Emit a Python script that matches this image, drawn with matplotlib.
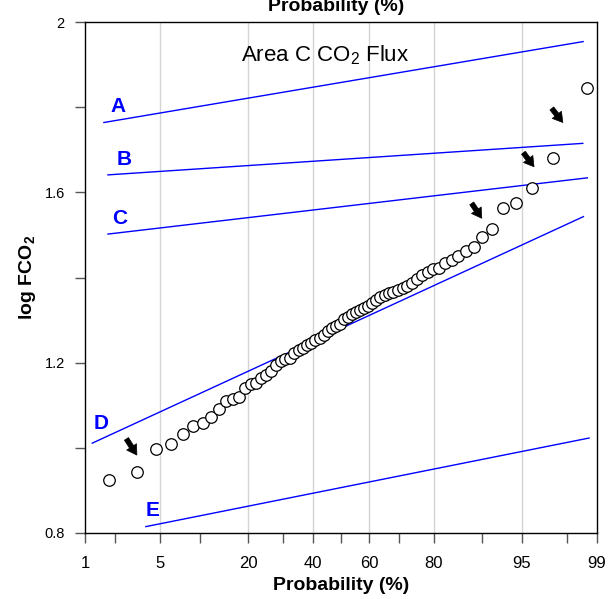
import numpy as np
import matplotlib
matplotlib.use("Agg")
import matplotlib.pyplot as plt
from statistics import NormalDist

plt.rcParams['font.family'] = ['Liberation Sans', 'DejaVu Sans']
plt.rcParams['mathtext.fontset'] = 'custom'
plt.rcParams['mathtext.rm'] = 'Liberation Sans'
plt.rcParams['mathtext.bf'] = 'Liberation Sans:bold'

# cumulative probability (%) of each sample and its log flux
prob = [1.75, 3.20, 4.65, 6.09, 7.54, 8.99, 10.44, 11.88, 13.33, 14.78,
        16.23, 17.67, 19.12, 20.57, 22.02, 23.46, 24.91, 26.36, 27.81, 29.25,
        30.70, 32.15, 33.60, 35.04, 36.49, 37.94, 39.38, 40.83, 42.28, 43.73,
        45.17, 46.62, 48.07, 49.52, 50.96, 52.41, 53.86, 55.31, 56.75, 58.20,
        59.65, 61.10, 62.54, 63.99, 65.44, 66.89, 68.33, 69.78, 71.23, 72.68,
        74.12, 75.57, 77.02, 78.47, 79.91, 81.36, 82.81, 84.26, 85.70, 87.15,
        88.60, 90.04, 91.49, 92.94, 94.39, 95.83, 97.28, 98.73]
log_fco2 = [0.924, 0.943, 0.997, 1.009, 1.032, 1.051, 1.059, 1.073, 1.091, 1.111,
            1.114, 1.119, 1.140, 1.149, 1.153, 1.163, 1.172, 1.180, 1.195, 1.204,
            1.208, 1.210, 1.222, 1.229, 1.235, 1.241, 1.247, 1.253, 1.258, 1.266,
            1.275, 1.282, 1.285, 1.290, 1.302, 1.308, 1.314, 1.318, 1.323, 1.329,
            1.334, 1.341, 1.348, 1.355, 1.359, 1.364, 1.367, 1.371, 1.375, 1.380,
            1.386, 1.397, 1.406, 1.413, 1.419, 1.422, 1.433, 1.441, 1.451, 1.462,
            1.471, 1.496, 1.513, 1.563, 1.574, 1.611, 1.681, 1.845]

# population lines A-E: (start prob, start value, end prob, end value)
line_names = ["A", "B", "C", "D", "E"]
line_p0 = [1.56, 1.71, 1.71, 1.19, 3.81]
line_v0 = [1.764, 1.641, 1.502, 1.011, 0.815]
line_p1 = [98.61, 98.60, 98.74, 98.62, 98.79]
line_v1 = [1.954, 1.715, 1.634, 1.543, 1.023]
label_xy = [(0.0645, 0.834), (0.076, 0.730), (0.068, 0.616), (0.031, 0.215), (0.131, 0.045)]

# arrows marking thresholds: tail (p, v) -> head (p, v)
arrow_tail = [(2.56, 1.021), (88.26, 1.574), (95.13, 1.693), (97.23, 1.797)]
arrow_head = [(3.18, 0.983), (89.96, 1.539), (96.03, 1.660), (97.81, 1.764)]

major_p = [1, 5, 20, 40, 60, 80, 95, 99]
minor_p = [2, 10, 30, 50, 70, 90, 98]


def z(p):
    return NormalDist().inv_cdf(p / 100.0)


fig = plt.figure(figsize=(6.16, 5.99), dpi=100)
ax = fig.add_axes([85 / 616, 1 - 533 / 599, 512 / 616, 511 / 599])

for p in major_p[1:-1]:
    ax.axvline(z(p), color="#d4d4d4", lw=1.0, zorder=0)

for i in range(len(line_names)):
    ax.plot([z(line_p0[i]), z(line_p1[i])], [line_v0[i], line_v1[i]],
            color="#0000ff", lw=1.0, zorder=2)
    ax.text(label_xy[i][0], label_xy[i][1], line_names[i], transform=ax.transAxes,
            color="#0000ff", fontsize=15, fontweight="bold", ha="center", va="center")

ax.plot([z(p) for p in prob], log_fco2, "o", ms=8.3, mfc="white", mec="black",
        mew=0.9, zorder=3)

for t, h in zip(arrow_tail, arrow_head):
    ax.annotate("", xy=(z(h[0]), h[1]), xytext=(z(t[0]), t[1]),
                arrowprops=dict(arrowstyle="simple,head_length=0.5,head_width=0.6,tail_width=0.25",
                                mutation_scale=14, fc="black", ec="black", lw=0.5,
                                shrinkA=0, shrinkB=0),
                zorder=4)

ax.text(0.469, 0.935, "Area C CO$_2$ Flux", transform=ax.transAxes,
        fontsize=16, ha="center", va="center")

ax.set_xlim(z(1), z(99))
ax.set_ylim(0.8, 2.0)
ax.set_xticks([z(p) for p in major_p])
ax.set_xticklabels([str(p) for p in major_p])
ax.set_xticks([z(p) for p in minor_p], minor=True)
ax.set_yticks([0.8, 1.2, 1.6, 2.0])
ax.set_yticklabels(["0.8", "1.2", "1.6", "2"])
ax.set_yticks([1.0, 1.4, 1.8], minor=True)
ax.tick_params(axis="both", which="both", direction="out", length=7.5,
               width=1.0, color="#555555")
ax.tick_params(axis="x", which="major", labelsize=12, pad=9)
ax.tick_params(axis="y", which="major", labelsize=10.5, pad=7)
for s in ax.spines.values():
    s.set_linewidth(1.0)

fig.text(341 / 616, 1 - 590 / 599, "Probability (%)", fontsize=14,
         fontweight="bold", ha="center", va="baseline")
fig.text(336 / 616, 1 - 11 / 599, "Probability (%)", fontsize=14,
         fontweight="bold", ha="center", va="baseline")
fig.text(28 / 616, 1 - 277 / 599, r"log FCO$_\mathbf{2}$", fontsize=14,
         fontweight="bold", rotation=90, ha="center", va="center")

fig.savefig("out.png", dpi=100)
